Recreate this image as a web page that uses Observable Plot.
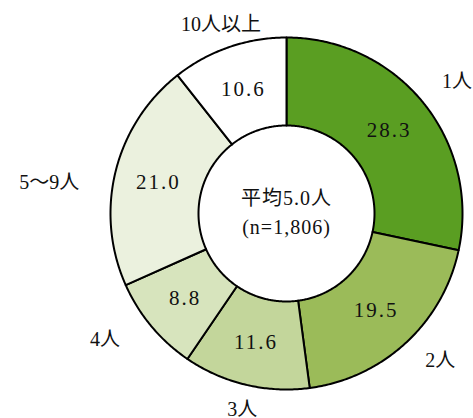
<!DOCTYPE html>
<html>
<head>
<meta charset="utf-8">
<script src="https://cdn.jsdelivr.net/npm/d3@7"></script>
<script src="https://cdn.jsdelivr.net/npm/@observablehq/plot@0.6"></script>
<style>
  html, body { margin: 0; padding: 0; background: #fff; }
  #chart svg { display: block; }
</style>
</head>
<body>
<div id="chart"></div>
<script>
// Household size distribution (%)
const categories = ["1人", "2人", "3人", "4人", "5〜9人", "10人以上"];
const shares = [28.3, 19.5, 11.6, 8.8, 21.0, 10.6];
const sliceColors = ["#5a9e22", "#9bbb59", "#c3d69b", "#d7e4bd", "#ebf1de", "#ffffff"];
const centerLines = ["平均5.0人", "(n=1,806)"];

const W = 473, H = 418;
const CX = 286, CY = 213;      // donut centre in pixels
const R_OUT = 176, R_IN = 88;  // radii in pixels
const LABEL_R = 200;

const font = "'Liberation Serif', 'Noto Sans CJK JP', serif";

const rows = categories.map((c, i) => ({category: c, share: shares[i], color: sliceColors[i]}));
const arcs = d3.pie().sort(null).value(d => d.share)(rows);

// polar -> cartesian (angle 0 at 12 o'clock, clockwise; y up)
const px = (a, r) => r * Math.sin(a);
const py = (a, r) => r * Math.cos(a);

// ring outline for each slice
const ringPts = [];
for (const a of arcs) {
  const n = Math.max(8, Math.ceil((a.endAngle - a.startAngle) / 0.01));
  const pts = [];
  for (let k = 0; k <= n; k++) {
    const t = a.startAngle + (a.endAngle - a.startAngle) * k / n;
    pts.push([px(t, R_OUT), py(t, R_OUT)]);
  }
  for (let k = n; k >= 0; k--) {
    const t = a.startAngle + (a.endAngle - a.startAngle) * k / n;
    pts.push([px(t, R_IN), py(t, R_IN)]);
  }
  pts.push(pts[0]);
  pts.forEach(([x, y], j) => ringPts.push({category: a.data.category, color: a.data.color, x, y, j}));
}

const mid = a => (a.startAngle + a.endAngle) / 2;

// value labels in the middle of each ring segment
const valueLabels = arcs.map(a => ({
  x: px(mid(a), (R_OUT + R_IN) / 2),
  y: py(mid(a), (R_OUT + R_IN) / 2),
  text: d3.format(".1f")(a.data.share)
}));

// category labels outside the ring
const labelNudge = {"1人": [0, 6], "2人": [3, 0], "3人": [2, -1], "4人": [-13, 2], "5〜9人": [-13, -17], "10人以上": [0, 0]};
const catLabels = arcs.map(a => {
  const t = mid(a), s = Math.sin(t);
  const [dx, dy] = labelNudge[a.data.category] || [0, 0];
  return {
    x: px(t, LABEL_R) + dx,
    y: py(t, LABEL_R) + dy,
    text: a.data.category,
    anchor: s > 0.35 ? "start" : s < -0.35 ? "end" : "middle"
  };
});

const textOpts = {fontFamily: font, fontSize: 20, fill: "#111"};

const chart = Plot.plot({
  width: W,
  height: H,
  margin: 0,
  x: {domain: [-CX, W - CX], axis: null},
  y: {domain: [-(H - CY), CY], axis: null},
  marks: [
    Plot.line(ringPts, {
      x: "x", y: "y", z: "category",
      fill: d => d.color, stroke: "#000", strokeWidth: 2,
      strokeLinejoin: "round", curve: "linear"
    }),
    Plot.text(valueLabels, {x: "x", y: "y", text: "text", ...textOpts, fontSize: 21}),
    ...["start", "middle", "end"].map(anc =>
      Plot.text(catLabels.filter(d => d.anchor === anc), {
        x: "x", y: "y", text: "text", textAnchor: anc, ...textOpts
      })
    ),
    Plot.text(centerLines.map((t, i) => ({t, i})), {
      x: () => 0,
      y: d => d.i === 0 ? 15 : -14,
      text: "t", ...textOpts
    })
  ]
});

// widen the numeric labels a little (value labels and centre note)
const textGroups = chart.querySelectorAll('g[aria-label="text"]');
textGroups[0].style.letterSpacing = "2px";
textGroups[textGroups.length - 1].style.letterSpacing = "1px";

document.getElementById("chart").appendChild(chart);
</script>
</body>
</html>
